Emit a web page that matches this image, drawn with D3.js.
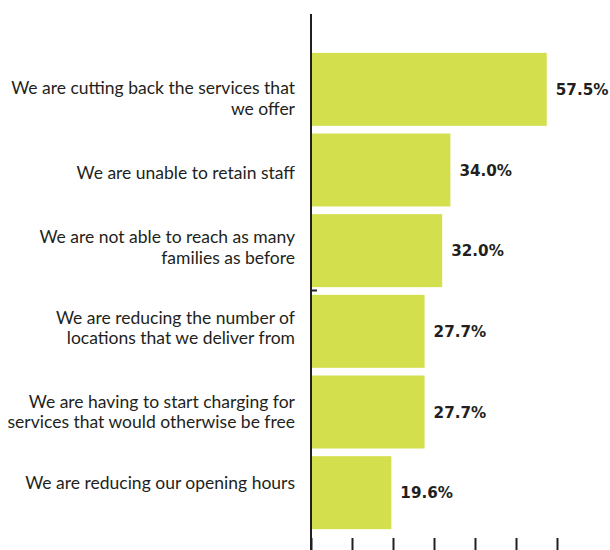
<!DOCTYPE html>
<html>
<head>
<meta charset="utf-8">
<script src="https://cdn.jsdelivr.net/npm/d3@7"></script>
<style>
  html, body { margin: 0; padding: 0; background: #fff; }
  svg { display: block; }
</style>
</head>
<body>
<svg id="chart" width="610" height="550"></svg>
<script>
// Impacts reported by organisations, share of respondents (%)
const categories = [
  ["We are cutting back the services that", "we offer"],
  ["We are unable to retain staff"],
  ["We are not able to reach as many", "families as before"],
  ["We are reducing the number of", "locations that we deliver from"],
  ["We are having to start charging for", "services that would otherwise be free"],
  ["We are reducing our opening hours"]
];
const values = [57.5, 34.0, 32.0, 27.7, 27.7, 19.6];
const valueLabels = ["57.5%", "34.0%", "32.0%", "27.7%", "27.7%", "19.6%"];
const xTicks = [0, 10, 20, 30, 40, 50, 60];

// vertical nudges (px) applied to each category label block
const labelNudge = [9, 2.5, -3.5, -3.5, 0, -10];

const svg = d3.select("#chart");
const ink = "#231f20";
const barFill = "#d4df4e";

const x = d3.scaleLinear().domain([0, 60]).range([311, 557]);
const y = d3.scaleBand()
  .domain(d3.range(values.length))
  .range([49, 533])
  .paddingInner(0.095)
  .paddingOuter(0.0475);
const mid = i => y(i) + y.bandwidth() / 2;

// bars
svg.append("g").selectAll("rect")
  .data(values)
  .join("rect")
  .attr("x", x(0))
  .attr("y", (d, i) => y(i))
  .attr("width", d => x(d) - x(0))
  .attr("height", y.bandwidth())
  .attr("fill", barFill);

// value labels at bar ends
svg.append("g").selectAll("text")
  .data(values)
  .join("text")
  .attr("x", d => x(d) + 9)
  .attr("y", (d, i) => mid(i))
  .attr("dy", 5.8)
  .attr("font-family", "'DejaVu Sans', sans-serif")
  .attr("font-weight", "bold")
  .attr("font-size", 15.2)
  .attr("fill", ink)
  .text((d, i) => valueLabels[i]);

// category labels, right aligned against the axis
const lineH = 20.7;
const baseShift = 6.1;
const cat = svg.append("g").selectAll("text")
  .data(categories)
  .join("text")
  .attr("text-anchor", "end")
  .attr("font-family", "Lato, sans-serif")
  .attr("font-size", 17.5)
  .attr("fill", ink)
  .attr("y", (d, i) => mid(i) + labelNudge[i] - (d.length - 1) * lineH / 2);
cat.selectAll("tspan")
  .data(d => d)
  .join("tspan")
  .attr("x", 295)
  .attr("dy", (d, j) => j === 0 ? baseShift : lineH)
  .text(d => d);

// bottom axis: tick marks only
const xAxis = d3.axisBottom(x).tickValues(xTicks).tickSize(12).tickFormat("");
const gx = svg.append("g").attr("transform", "translate(0,538)").call(xAxis);
gx.select(".domain").remove();
gx.selectAll(".tick line").attr("stroke", ink).attr("stroke-width", 2);

// vertical baseline
svg.append("line")
  .attr("x1", x(0)).attr("x2", x(0))
  .attr("y1", 14).attr("y2", 550)
  .attr("stroke", ink).attr("stroke-width", 2);

// small stub tick on the baseline
svg.append("line")
  .attr("x1", x(0)).attr("x2", x(0) + 6)
  .attr("y1", 290.5).attr("y2", 290.5)
  .attr("stroke", ink).attr("stroke-width", 2);
</script>
</body>
</html>
